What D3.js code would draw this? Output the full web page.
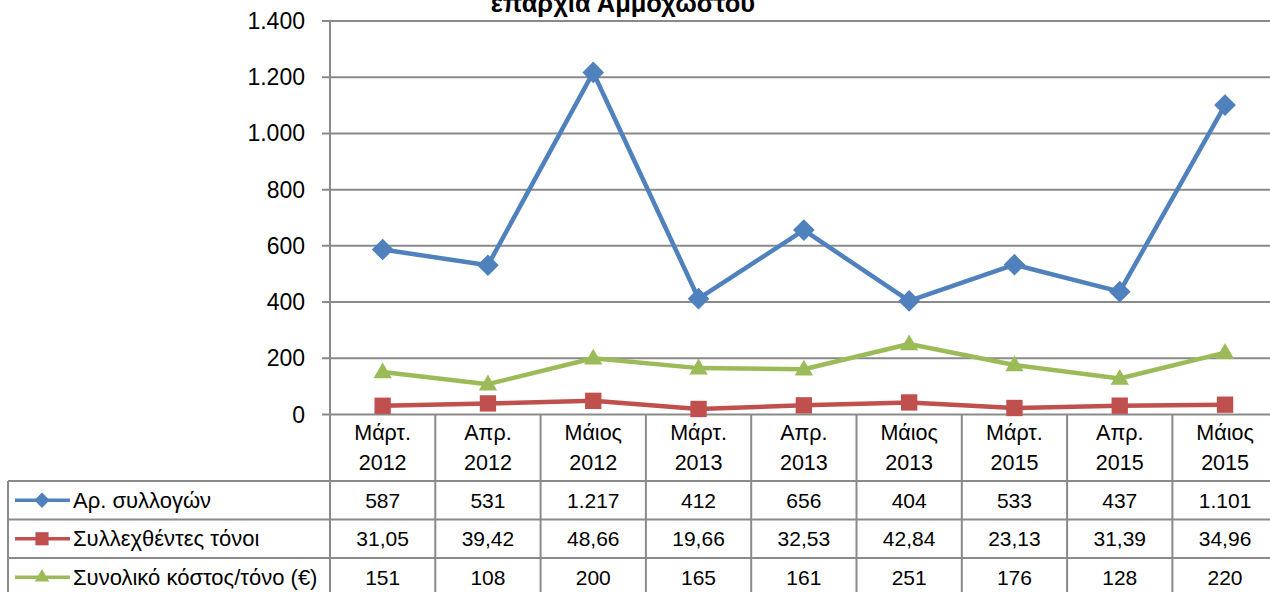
<!DOCTYPE html>
<meta charset="utf-8">
<script src="https://d3js.org/d3.v7.min.js"></script>
<style>
  body { margin: 0; background: #fff; }
  text { font-family: "Liberation Sans", Arial, sans-serif; fill: #000; }
</style>
<div id="chart"></div>
<script>
// categories (two-line labels) and series
var months = ["Μάρτ.", "Απρ.", "Μάιος", "Μάρτ.", "Απρ.", "Μάιος", "Μάρτ.", "Απρ.", "Μάιος"];
var years  = ["2012", "2012", "2012", "2013", "2013", "2013", "2015", "2015", "2015"];
var seriesNames = ["Αρ. συλλογών", "Συλλεχθέντες τόνοι", "Συνολικό κόστος/τόνο (€)"];
var collections = [587, 531, 1217, 412, 656, 404, 533, 437, 1101];
var tonnes      = [31.05, 39.42, 48.66, 19.66, 32.53, 42.84, 23.13, 31.39, 34.96];
var costPerTon  = [151, 108, 200, 165, 161, 251, 176, 128, 220];
var yTicks = [0, 200, 400, 600, 800, 1000, 1200, 1400];

var colors = ["#4F81BD", "#C0504D", "#9BBB59"];
var markers = ["diamond", "square", "triangle"];
var seriesData = [collections, tonnes, costPerTon];
var seriesFmt = ["int", "dec", "int"];

// greek number formatting
var gr = d3.formatLocale({decimal: ",", thousands: ".", grouping: [3], currency: ["", "€"]});
var fInt = gr.format(",.0f"), fDec = gr.format(",.2f");

var W = 1270, H = 592;
var svg = d3.select("#chart").append("svg").attr("width", W).attr("height", H);

var plotLeft = 330, colW = 105.3, plotTop = 21, zeroY = 414.5;
var cats = months.map(function(m, i) { return i; });
var x = d3.scaleBand().domain(cats).range([plotLeft, plotLeft + colW * cats.length]);
var y = d3.scaleLinear().domain([0, 1400]).range([zeroY, plotTop]);

var grid = "#8a8a8a";

// title (cut off at top)
svg.append("text")
    .attr("x", 623).attr("y", 12)
    .attr("text-anchor", "middle")
    .style("font-weight", "bold").style("font-size", "25.5px")
    .text("επαρχία Αμμοχώστου");

// horizontal gridlines
svg.append("g").selectAll("line").data(yTicks).enter().append("line")
    .attr("x1", plotLeft - 8).attr("x2", W)
    .attr("y1", function(d) { return y(d); }).attr("y2", function(d) { return y(d); })
    .attr("stroke", grid).attr("stroke-width", 2);

// y labels
svg.append("g").selectAll("text").data(yTicks).enter().append("text")
    .attr("x", 305).attr("y", function(d) { return y(d) + 8; })
    .attr("text-anchor", "end").style("font-size", "23px")
    .text(function(d) { return fInt(d); });

// table geometry
var rowTop = 481, rowH = 38.5, tableLeft = 8;

// y axis + column separators
svg.append("line").attr("x1", plotLeft).attr("x2", plotLeft).attr("y1", plotTop).attr("y2", H)
    .attr("stroke", grid).attr("stroke-width", 2);
svg.append("g").selectAll("line").data(cats).enter().append("line")
    .attr("x1", function(d) { return x(d) + x.bandwidth(); })
    .attr("x2", function(d) { return x(d) + x.bandwidth(); })
    .attr("y1", zeroY).attr("y2", H)
    .attr("stroke", grid).attr("stroke-width", 2);
// table horizontal lines
[0, 1, 2, 3].forEach(function(r) {
  svg.append("line").attr("x1", tableLeft).attr("x2", W)
      .attr("y1", rowTop + r * rowH).attr("y2", rowTop + r * rowH)
      .attr("stroke", grid).attr("stroke-width", 2);
});
svg.append("line").attr("x1", tableLeft).attr("x2", tableLeft).attr("y1", rowTop).attr("y2", H)
    .attr("stroke", grid).attr("stroke-width", 2);

// category labels
var catG = svg.append("g").selectAll("g").data(cats).enter().append("g");
catG.append("text")
    .attr("x", function(d) { return x(d) + x.bandwidth() / 2; }).attr("y", 440)
    .attr("text-anchor", "middle").style("font-size", "21.5px")
    .text(function(d) { return months[d]; });
catG.append("text")
    .attr("x", function(d) { return x(d) + x.bandwidth() / 2; }).attr("y", 470)
    .attr("text-anchor", "middle").style("font-size", "21.5px")
    .text(function(d) { return years[d]; });

function symbolFor(kind, size) {
  var t = kind === "diamond" ? d3.symbolDiamond2 : kind === "square" ? d3.symbolSquare2 : d3.symbolTriangle2;
  return d3.symbol().type(t).size(size)();
}

var markerSize = {diamond: 300, square: 340, triangle: 240};
var legSize = {diamond: 150, square: 220, triangle: 150};

var line = d3.line()
    .x(function(d, i) { return x(i) + x.bandwidth() / 2; })
    .y(function(d) { return y(d); });

seriesData.forEach(function(vals, s) {
  var g = svg.append("g");
  g.append("path").datum(vals)
      .attr("d", line).attr("fill", "none")
      .attr("stroke", colors[s]).attr("stroke-width", 4.5)
      .attr("stroke-linejoin", "round");
  g.selectAll("path.m").data(vals).enter().append("path")
      .attr("class", "m")
      .attr("transform", function(d, i) {
        return "translate(" + (x(i) + x.bandwidth() / 2) + "," + (y(d) + (markers[s] === "triangle" ? 1 : 0)) + ")";
      })
      .attr("d", symbolFor(markers[s], markerSize[markers[s]]))
      .attr("fill", colors[s]);

  // table row
  var cy = rowTop + rowH * s + rowH / 2;
  svg.append("line").attr("x1", 15).attr("x2", 70).attr("y1", cy).attr("y2", cy)
      .attr("stroke", colors[s]).attr("stroke-width", 3.5);
  svg.append("path").attr("transform", "translate(42," + cy + ")")
      .attr("d", symbolFor(markers[s], legSize[markers[s]])).attr("fill", colors[s]);
  svg.append("text").attr("x", 73).attr("y", cy + 7.5)
      .style("font-size", "22px").text(seriesNames[s]);
  svg.append("g").selectAll("text").data(vals).enter().append("text")
      .attr("x", function(d, i) { return x(i) + x.bandwidth() / 2; })
      .attr("y", cy + 7.5)
      .attr("text-anchor", "middle").style("font-size", "21px")
      .text(function(d) { return seriesFmt[s] === "dec" ? fDec(d) : fInt(d); });
});
</script>
